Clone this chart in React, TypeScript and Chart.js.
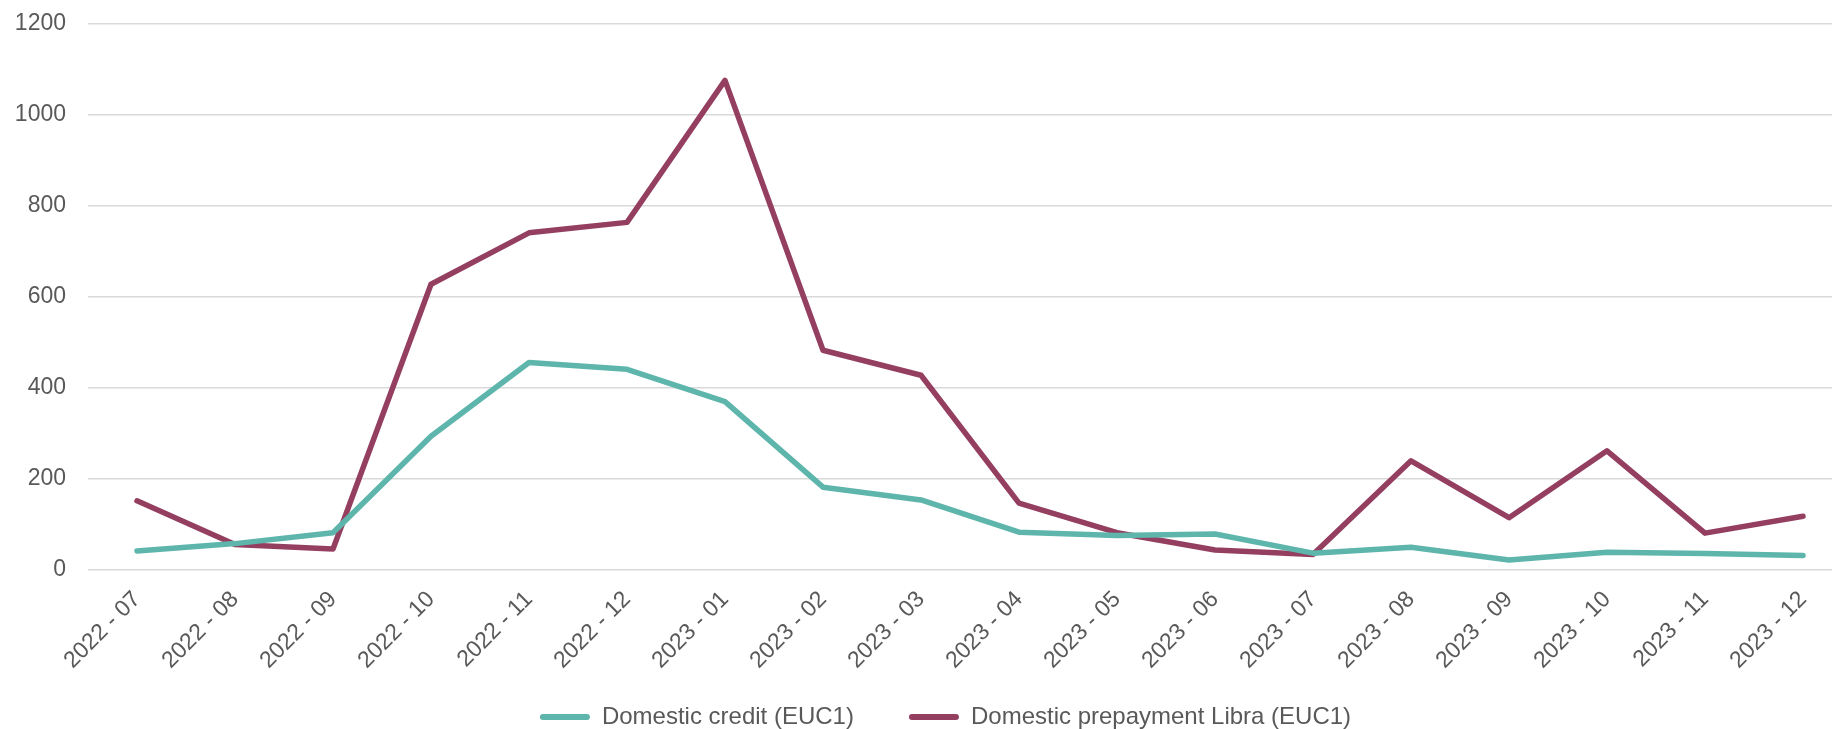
import React, { useEffect, useRef } from "react";
import { Chart, registerables } from "chart.js";

Chart.register(...registerables);

const categories = [
  "2022 - 07", "2022 - 08", "2022 - 09", "2022 - 10", "2022 - 11", "2022 - 12",
  "2023 - 01", "2023 - 02", "2023 - 03", "2023 - 04", "2023 - 05", "2023 - 06",
  "2023 - 07", "2023 - 08", "2023 - 09", "2023 - 10", "2023 - 11", "2023 - 12",
];

const domesticCredit = [42, 58, 82, 294, 456, 441, 370, 182, 154, 83, 76, 79, 37, 50, 22, 39, 36, 32];
const domesticPrepaymentLibra = [152, 56, 46, 628, 741, 764, 1076, 483, 428, 147, 82, 44, 34, 240, 115, 262, 81, 118];

const seriesNames = ["Domestic credit (EUC1)", "Domestic prepayment Libra (EUC1)"];
const seriesColors = ["#5db5ac", "#953f60"];

const yMin = 0;
const yMax = 1200;
const yStep = 200;

const unclipXLabels = {
  id: "unclipXLabels",
  afterLayout(chart: any) {
    const x = chart.scales.x;
    if (x) x.bottom = chart.height;
  },
};

export default function App() {
  const canvasRef = useRef<HTMLCanvasElement | null>(null);

  useEffect(() => {
    if (!canvasRef.current) return;
    const font = "'Liberation Sans', Arial, Helvetica, sans-serif";
    const chart = new Chart(canvasRef.current, {
      type: "line",
      data: {
        labels: categories,
        datasets: [
          {
            label: seriesNames[0],
            data: domesticCredit,
            borderColor: seriesColors[0],
            backgroundColor: seriesColors[0],
            borderWidth: 5.5,
            pointRadius: 0,
            tension: 0,
            borderJoinStyle: "round",
            borderCapStyle: "round",
            yAxisID: "y",
          },
          {
            label: seriesNames[1],
            data: domesticPrepaymentLibra,
            borderColor: seriesColors[1],
            backgroundColor: seriesColors[1],
            borderWidth: 5.5,
            pointRadius: 0,
            tension: 0,
            borderJoinStyle: "round",
            borderCapStyle: "round",
            yAxisID: "y",
          },
        ],
      },
      plugins: [unclipXLabels],
      options: {
        animation: false,
        responsive: true,
        maintainAspectRatio: false,
        layout: { padding: { top: 24, left: 0, right: 0, bottom: 1 } },
        plugins: {
          tooltip: { enabled: false },
          legend: {
            position: "bottom",
            labels: {
              color: "#595959",
              font: { family: font, size: 24 },
              boxWidth: 50,
              boxHeight: 6,
              padding: 55,
              useBorderRadius: true,
              borderRadius: 3,
              generateLabels: (c: any) =>
                c.data.datasets.map((ds: any, i: number) => ({
                  text: ds.label,
                  fillStyle: ds.borderColor,
                  strokeStyle: ds.borderColor,
                  lineWidth: 0,
                  hidden: false,
                  datasetIndex: i,
                  fontColor: "#595959",
                  borderRadius: 3,
                })),
            },
          },
        },
        scales: {
          x: {
            type: "category",
            offset: true,
            grid: { display: false },
            border: { display: false },
            ticks: {
              color: "#595959",
              font: { family: font, size: 23 },
              maxRotation: 45,
              minRotation: 45,
              autoSkip: false,
              padding: 8,
            },
            afterFit: (s: any) => {
              s.height = 80;
              s.paddingTop = 0;
              s.paddingBottom = 0;
            },
          },
          y: {
            type: "linear",
            position: "left",
            min: yMin,
            max: yMax,
            grid: { color: "#d9d9d9", lineWidth: 1.5, drawTicks: false },
            border: { display: false },
            ticks: {
              stepSize: yStep,
              color: "#595959",
              font: { family: font, size: 23 },
              padding: 22,
              callback: (v: any) => String(v),
            },
            afterFit: (s: any) => {
              s.width = 88;
              s.paddingTop = 0;
              s.paddingBottom = 0;
            },
          },
          y2: {
            type: "linear",
            position: "right",
            display: true,
            grid: { display: false, drawTicks: false },
            border: { display: false },
            ticks: { display: false },
            afterFit: (s: any) => {
              s.width = 39;
              s.paddingTop = 0;
              s.paddingBottom = 0;
            },
          },
        },
      },
    });
    return () => chart.destroy();
  }, []);

  return (
    <div
      style={{
        position: "fixed",
        left: 0,
        top: 0,
        width: 1832,
        height: 729,
        overflow: "hidden",
        background: "#ffffff",
      }}
    >
      <div style={{ position: "relative", width: 1891, height: 740 }}>
        <canvas ref={canvasRef} />
      </div>
    </div>
  );
}
